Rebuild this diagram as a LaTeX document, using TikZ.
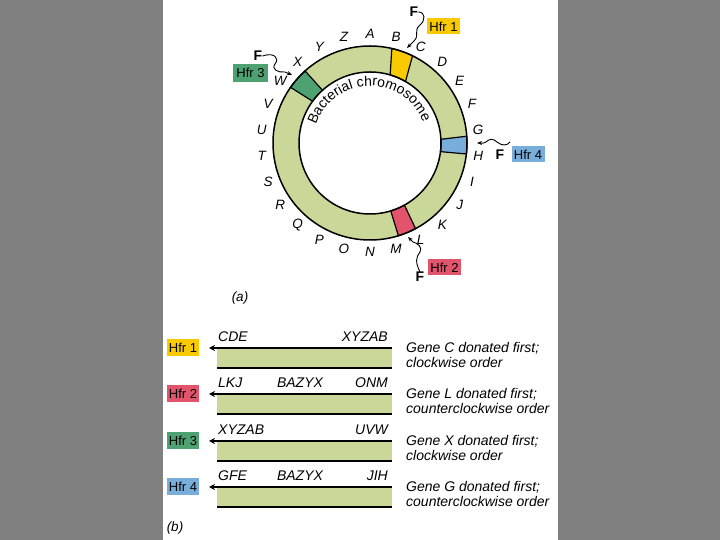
\documentclass[tikz,border=0pt]{standalone}
\usepackage{fontspec}
\setmainfont{Liberation Sans}
\usetikzlibrary{arrows.meta,positioning,decorations.text}
\definecolor{ringgreen}{RGB}{201,216,152}
\definecolor{hfryellow}{RGB}{250,202,0}
\definecolor{hfrred}{RGB}{226,84,108}
\definecolor{hfrgreen}{RGB}{78,162,114}
\definecolor{hfrblue}{RGB}{122,174,218}
\definecolor{bggray}{RGB}{128,128,128}

\begin{document}
\begin{tikzpicture}[
  x=1pt,y=1pt,
  gene/.style={font=\fontsize{13.5}{15}\selectfont\itshape,inner sep=0pt},
  hfr/.style={fill=#1,font=\fontsize{13}{15}\selectfont,minimum width=33pt,minimum height=16pt,inner sep=1pt},
  donor/.style={font=\fontsize{14}{16}\selectfont\bfseries,inner sep=0pt},
  wave/.style={-{Stealth[length=5pt,width=4pt]},line width=0.9pt},
  transfer/.style={-{Stealth[length=6pt,width=6pt]},line width=1.8pt},
  seg/.style={font=\fontsize{14}{16}\selectfont\itshape,inner sep=0pt},
  order/.style={font=\fontsize{14}{15}\selectfont\itshape,align=left,anchor=west,inner sep=0pt}
]
\useasboundingbox (0,0) rectangle (720,540);
\fill[bggray] (0,0) rectangle (720,540);
\fill[white] (163,0) rectangle (558,540);

% (a) circular chromosome with the four F insertion sites
\coordinate (ctr) at (370,397);
\begin{scope}[shift={(ctr)}]
  \fill[ringgreen,even odd rule] (0,0) circle (97) (0,0) circle (71);
  \foreach \col/\ia/\ib/\oa/\ob in {hfryellow/60/73.5/64/77,hfrblue/-7/3/-6.5/4,hfrred/-73/-61/-73/-62,hfrgreen/132/144/132/145}
    \filldraw[fill=\col,line width=1.2pt] (\ia:71) -- (\oa:97) arc (\oa:\ob:97) -- (\ib:71) arc (\ib:\ia:71) -- cycle;
  \draw[line width=1.5pt] (0,0) circle (97) (0,0) circle (71);
  \foreach \g [count=\i from 0] in {A,B,C,D,E,F,G,H,I,J,K,L,M,N,O,P,Q,R,S,T,U,V,W,X,Y,Z}
    \node[gene] (g\g) at ({90-\i*360/26}:109) {\g};
  \path[decorate,decoration={text along path,text align=center,
    text={|\fontsize{14}{16}\selectfont|Bacterial chromosome}}] (172:57) arc (172:11:57);
\end{scope}

\node[hfr=hfryellow] (h1) at (443.5,513.5) {Hfr 1};
\node[donor] (f1) at (414,528) {F};
\coordinate (t1) at (407,492);
\draw[wave] (f1.east) .. controls (425,528) and (426,520) .. (420,515) .. controls (413,509) and (420,505) .. (414,499) -- (t1);

\node[hfr=hfrgreen,minimum width=35pt,minimum height=18pt] (h3) at (250.5,467) {Hfr 3};
\node[donor] (f3) at (258,484) {F};
\coordinate (t3) at (292,465);
\draw[wave] (f3.east) .. controls (274,488) and (280,482) .. (275,476) .. controls (271,471) and (278,467) .. (285,468) -- (t3);

\node[hfr=hfrblue] (h4) at (528,385.5) {Hfr 4};
\node[donor] (f4) at (500,385) {F};
\coordinate (s4) at (510,398);
\coordinate (t4) at (477,397);
\draw[wave] (s4) .. controls (507,394) and (502,394) .. (497,398) .. controls (493,402) and (489,401) .. (486,398) .. controls (484,396) and (481,397) .. (t4);

\node[hfr=hfrred] (h2) at (444.5,272.5) {Hfr 2};
\node[donor] (f2) at (420,263) {F};
\coordinate (t2) at (408,303);
\draw[wave] (f2.north) .. controls (415,278) and (416,283) .. (420,288) .. controls (423,293) and (417,297) .. (413,298) -- (t2);

\node[gene] (cap a) at (240,242) {(a)};

% (b) order of transfer for each Hfr strain
\foreach \y/\col/\n/\l/\m/\r/\ta/\tb in {
  192/hfryellow/1/CDE//XYZAB/{Gene C donated first;}/{clockwise order},
  146/hfrred/2/LKJ/BAZYX/ONM/{Gene L donated first;}/{counterclockwise order},
  99/hfrgreen/3/XYZAB//UVW/{Gene X donated first;}/{clockwise order},
  53/hfrblue/4/GFE/BAZYX/JIH/{Gene G donated first;}/{counterclockwise order}}{
  \node[hfr=\col,minimum width=32pt,minimum height=17pt] (hb\n) at (183,\y) {Hfr \n};
  \coordinate (s\n) at (392,\y);
  \coordinate (e\n) at (209,\y);
  \fill[ringgreen] (217,\y) rectangle (392,\y-20);
  \draw[line width=1.8pt] (217,\y-20) -- (392,\y-20);
  \draw[transfer] (s\n) -- (e\n);
  \node[seg,anchor=west] (left\n) at (218,\y+11) {\l};
  \node[seg] (mid\n) at (300,\y+11) {\m};
  \node[seg,anchor=east] (right\n) at (388,\y+11) {\r};
  \node[order] (txt\n) at (406,\y-7.5) {\ta\\\tb};
}

\node[gene] (cap b) at (175,12) {(b)};
\end{tikzpicture}
\end{document}
